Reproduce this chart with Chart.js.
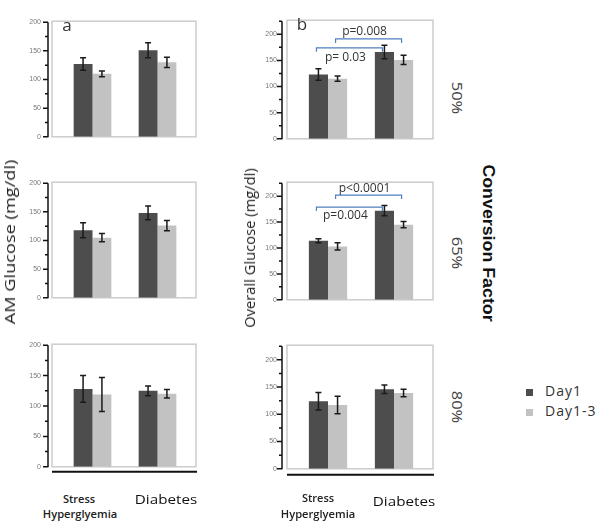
<!DOCTYPE html>
<html>
<head>
<meta charset="utf-8">
<script src="https://cdn.jsdelivr.net/npm/chart.js@4.4.0/dist/chart.umd.min.js"></script>
<style>
body { margin: 0; background: #fff; width: 601px; height: 523px; position: relative; overflow: hidden; font-family: 'Open Sans', sans-serif; }
canvas { position: absolute; }
.t { position: absolute; white-space: nowrap; color: #333; line-height: 1; }
</style>
</head>
<body>
<script>
// categories and series
const categories = ['Stress Hyperglyemia', 'Diabetes'];
const seriesNames = ['Day1', 'Day1-3'];
const factors = ['50%', '65%', '80%'];

// AM glucose (panel a), mean and error
const am50Day1 = [127, 151], am50Day1Err = [11, 13];
const am50Day13 = [110, 130], am50Day13Err = [5, 9];
const am65Day1 = [118, 148], am65Day1Err = [13, 12];
const am65Day13 = [105, 126], am65Day13Err = [7, 9];
const am80Day1 = [128, 125], am80Day1Err = [22, 8];
const am80Day13 = [119, 120], am80Day13Err = [28, 7];

// overall glucose (panel b)
const all50Day1 = [123, 166], all50Day1Err = [11, 13];
const all50Day13 = [115, 151], all50Day13Err = [5, 9];
const all65Day1 = [114, 172], all65Day1Err = [4, 10];
const all65Day13 = [103, 145], all65Day13Err = [7, 6];
const all80Day1 = [124, 146], all80Day1Err = [16, 8];
const all80Day13 = [117, 139], all80Day13Err = [16, 7];

// p values (Day1 SH vs Day1 DM, Day1-3 SH vs Day1-3 DM)
const pLabels50 = ['p= 0.03', 'p=0.008'];
const pLabels65 = ['p=0.004', 'p<0.0001'];

const yMaxAM = 200, yMaxAll = 225;
const colors = ['#4d4d4d', '#c2c2c2'];

// error bars
const errorBars = {
  id: 'errorBars',
  afterDatasetsDraw(chart) {
    const ctx = chart.ctx, y = chart.scales.y;
    ctx.save();
    ctx.strokeStyle = '#1a1a1a';
    ctx.lineWidth = 1.5;
    chart.data.datasets.forEach((ds, i) => {
      chart.getDatasetMeta(i).data.forEach((bar, j) => {
        const hi = y.getPixelForValue(ds.data[j] + ds.err[j]);
        const lo = y.getPixelForValue(ds.data[j] - ds.err[j]);
        ctx.beginPath();
        ctx.moveTo(bar.x, hi); ctx.lineTo(bar.x, lo);
        ctx.moveTo(bar.x - 3, hi); ctx.lineTo(bar.x + 3, hi);
        ctx.moveTo(bar.x - 3, lo); ctx.lineTo(bar.x + 3, lo);
        ctx.stroke();
      });
    });
    ctx.restore();
  }
};

// frame, y axis line with ticks, bottom base line
const panelDeco = {
  id: 'panelDeco',
  beforeDatasetsDraw(chart, args, o) {
    const { ctx, chartArea: ca } = chart;
    ctx.save();
    ctx.strokeStyle = '#cccccc';
    ctx.lineWidth = 1.5;
    ctx.strokeRect(ca.left - 8, ca.top - 1, ca.width + 14, ca.height + 1);
    ctx.restore();
  },
  afterDraw(chart, args, o) {
    const { ctx, chartArea: ca } = chart;
    const y = chart.scales.y;
    const ax = ca.left - o.axisGap;
    ctx.save();
    ctx.strokeStyle = '#111';
    ctx.lineWidth = 1.5;
    ctx.beginPath();
    ctx.moveTo(ax, y.getPixelForValue(y.max));
    ctx.lineTo(ax, y.getPixelForValue(0) + 0.5);
    for (let v = 0; v <= y.max; v += 25) {
      const py = y.getPixelForValue(v);
      ctx.moveTo(ax - (v % 50 === 0 ? 5 : 3), py);
      ctx.lineTo(ax, py);
    }
    ctx.stroke();
    if (o.baseline) {
      ctx.lineWidth = 2;
      ctx.beginPath();
      ctx.moveTo(ca.left - 8, ca.bottom + o.baseline);
      ctx.lineTo(ca.right + 7, ca.bottom + o.baseline);
      ctx.stroke();
    }
    ctx.restore();
  }
};

// significance brackets
const brackets = {
  id: 'brackets',
  afterDraw(chart, args, o) {
    if (!o.items) return;
    const ctx = chart.ctx, y = chart.scales.y;
    ctx.save();
    o.items.forEach(b => {
      const bars = chart.getDatasetMeta(b.ds).data;
      const x1 = bars[0].x - 2, x2 = bars[1].x - 2;
      const py = y.getPixelForValue(b.at);
      ctx.strokeStyle = '#4f7fbf';
      ctx.lineWidth = 1.2;
      ctx.beginPath();
      ctx.moveTo(x1, py + 4); ctx.lineTo(x1, py); ctx.lineTo(x2, py); ctx.lineTo(x2, py + 4);
      ctx.stroke();
      ctx.fillStyle = '#333';
      ctx.font = '12px "Open Sans"';
      ctx.textAlign = 'center';
      ctx.textBaseline = 'middle';
      ctx.fillText(b.text, (x1 + x2) / 2 - 4, py + b.dy);
    });
    ctx.restore();
  }
};

function makeChart(p) {
  const c = document.createElement('canvas');
  const padBottom = p.baseline ? 12 : 6;
  const h = p.bottom - p.top + 6 + padBottom;
  c.width = p.width; c.height = h;
  c.style.left = p.left + 'px';
  c.style.top = (p.top - 6) + 'px';
  c.style.width = p.width + 'px';
  c.style.height = h + 'px';
  document.body.appendChild(c);
  new Chart(c, {
    type: 'bar',
    data: {
      labels: categories,
      datasets: [
        { label: seriesNames[0], data: p.day1, err: p.day1Err, backgroundColor: colors[0] },
        { label: seriesNames[1], data: p.day13, err: p.day13Err, backgroundColor: colors[1] }
      ]
    },
    options: {
      responsive: false,
      animation: false,
      devicePixelRatio: 1,
      barPercentage: 1,
      categoryPercentage: 0.58,
      layout: { padding: { top: 6, bottom: padBottom, left: 0, right: p.padRight } },
      plugins: {
        legend: { display: false },
        tooltip: { enabled: false },
        panelDeco: { axisGap: p.axisGap, baseline: p.baseline },
        brackets: { items: p.brackets }
      },
      scales: {
        x: { display: false },
        y: {
          min: 0, max: p.yMax,
          afterFit(s) { s.width = p.yWidth; },
          grid: { display: false, drawTicks: false },
          border: { display: false },
          ticks: {
            stepSize: 25, padding: p.tickPad, color: '#777',
            font: { size: 7, family: 'Liberation Sans' },
            callback: v => (v % 50 === 0 ? v : null)
          }
        }
      }
    },
    plugins: [panelDeco, errorBars, brackets]
  });
}

const leftCol = { left: 0, width: 200, yWidth: 60, padRight: 10, axisGap: 12, tickPad: 19, yMax: yMaxAM };
const rightCol = { left: 220, width: 215, yWidth: 75, padRight: 8, axisGap: 13, tickPad: 18, yMax: yMaxAll };

makeChart({ ...leftCol, top: 5, bottom: 154, day1: am50Day1, day1Err: am50Day1Err, day13: am50Day13, day13Err: am50Day13Err });
makeChart({ ...leftCol, top: 166, bottom: 315, day1: am65Day1, day1Err: am65Day1Err, day13: am65Day13, day13Err: am65Day13Err });
makeChart({ ...leftCol, top: 328, bottom: 478, baseline: 5, day1: am80Day1, day1Err: am80Day1Err, day13: am80Day13, day13Err: am80Day13Err });

makeChart({ ...rightCol, top: 5, bottom: 155, day1: all50Day1, day1Err: all50Day1Err, day13: all50Day13, day13Err: all50Day13Err,
  brackets: [{ ds: 0, at: 174, dy: 10, text: pLabels50[0] }, { ds: 1, at: 191, dy: -7, text: pLabels50[1] }] });
makeChart({ ...rightCol, top: 167, bottom: 316, day1: all65Day1, day1Err: all65Day1Err, day13: all65Day13, day13Err: all65Day13Err,
  brackets: [{ ds: 0, at: 179, dy: 9, text: pLabels65[0] }, { ds: 1, at: 202, dy: -7, text: pLabels65[1] }] });
makeChart({ ...rightCol, top: 330, bottom: 479, baseline: 6, day1: all80Day1, day1Err: all80Day1Err, day13: all80Day13, day13Err: all80Day13Err });

// text
function addText(text, x, y, css, rot, target) {
  const d = document.createElement('div');
  d.className = 't';
  d.textContent = text;
  Object.assign(d.style, css);
  d.style.left = x + 'px';
  d.style.top = y + 'px';
  document.body.appendChild(d);
  const sx = target ? target / d.offsetWidth : 1;
  d.style.transform = 'translate(-50%,-50%) rotate(' + (rot || 0) + 'deg) scaleX(' + sx + ')';
}

addText('a', 67, 24, { fontSize: '17px' });
addText('b', 302, 23, { fontSize: '17px' });
addText('AM Glucose (mg/dl)', 10, 242, { fontSize: '14px', color: '#222' }, -90, 165);
addText('Overall Glucose (mg/dl)', 250, 248, { fontSize: '14px', color: '#222' }, -90, 160);

const catParts = categories[0].split(' ');
[[0, 79, 80, 166, 499], [1, 318, 318, 404, 501]].forEach(([i, sx, hx, dx, dy]) => {
  addText(catParts[0], sx, 498 - i, { fontSize: '11px', fontWeight: '600', color: '#222' }, 0, 32);
  addText(catParts[1], hx, 513, { fontSize: '11px', fontWeight: '600', color: '#222' }, 0, 74);
  addText(categories[1], dx, dy, { fontSize: '13px', color: '#111' }, 0, 62);
});

addText(factors[0], 457, 98, { fontSize: '14px', color: '#444' }, 90, 33);
addText(factors[1], 457, 253, { fontSize: '14px', color: '#444' }, 90, 33);
addText(factors[2], 457, 407, { fontSize: '14px', color: '#444' }, 90, 33);
addText('Conversion Factor', 488, 243, { fontSize: '17px', fontWeight: 'bold', fontFamily: 'Liberation Sans', color: '#111' }, 90, 157);

// legend
seriesNames.forEach((name, i) => {
  const sq = document.createElement('div');
  Object.assign(sq.style, { position: 'absolute', left: '526px', top: (389 + i * 20) + 'px', width: '7px', height: '7px', background: colors[i] });
  document.body.appendChild(sq);
  const d = document.createElement('div');
  d.className = 't';
  d.textContent = name;
  Object.assign(d.style, { left: '545px', top: (384 + i * 20) + 'px', fontSize: '14px', letterSpacing: '1px' });
  document.body.appendChild(d);
});
</script>
</body>
</html>
